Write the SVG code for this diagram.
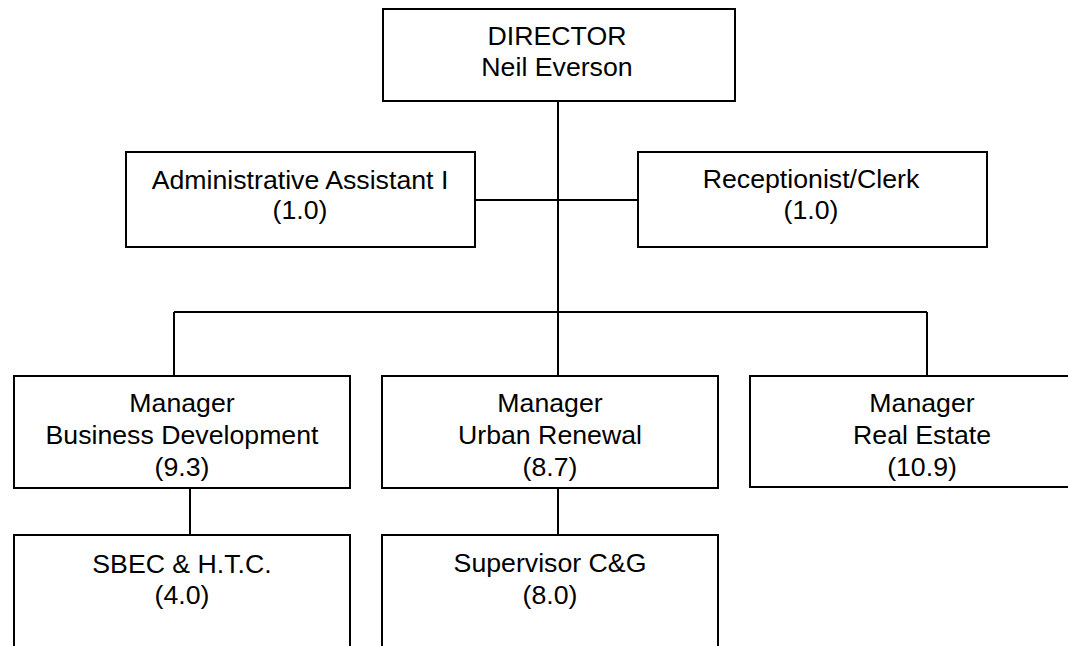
<svg xmlns="http://www.w3.org/2000/svg" width="1068" height="646" viewBox="0 0 1068 646">
<style>
.box{fill:#fff;stroke:#000;stroke-width:2}
.ln{fill:none;stroke:#000;stroke-width:2}
text{font-family:"Liberation Sans",Arial,sans-serif;font-size:26.7px;fill:#000;text-anchor:middle}
</style>
<rect width="1068" height="646" fill="#fff"/>
<g id="connectors">
<line class="ln" x1="558" y1="101" x2="558" y2="376"/>
<line class="ln" x1="476" y1="200" x2="638" y2="200"/>
<line class="ln" x1="174" y1="312" x2="927" y2="312"/>
<line class="ln" x1="174" y1="312" x2="174" y2="376"/>
<line class="ln" x1="927" y1="312" x2="927" y2="376"/>
<line class="ln" x1="190" y1="488" x2="190" y2="535"/>
<line class="ln" x1="558" y1="488" x2="558" y2="535"/>
</g>
<g id="director">
<rect class="box" x="383" y="9" width="352" height="92"/>
<text x="557" y="45">DIRECTOR</text>
<text x="557" y="76">Neil Everson</text>
</g>
<g id="admin">
<rect class="box" x="126" y="152" width="349" height="95"/>
<text x="300" y="189">Administrative Assistant I</text>
<text x="300" y="219">(1.0)</text>
</g>
<g id="receptionist">
<rect class="box" x="638" y="152" width="349" height="95"/>
<text x="811" y="188">Receptionist/Clerk</text>
<text x="811" y="219">(1.0)</text>
</g>
<g id="mgr-bd">
<rect class="box" x="14" y="376" width="336" height="112"/>
<text x="182" y="412">Manager</text>
<text x="182" y="444">Business Development</text>
<text x="182" y="476">(9.3)</text>
</g>
<g id="mgr-ur">
<rect class="box" x="382" y="376" width="336" height="112"/>
<text x="550" y="412">Manager</text>
<text x="550" y="444">Urban Renewal</text>
<text x="550" y="476">(8.7)</text>
</g>
<g id="mgr-re">
<rect class="box" x="750" y="376" width="344" height="111"/>
<text x="922" y="412">Manager</text>
<text x="922" y="444">Real Estate</text>
<text x="922" y="476">(10.9)</text>
</g>
<g id="sbec">
<rect class="box" x="14" y="535" width="336" height="130"/>
<text x="182" y="573">SBEC &amp; H.T.C.</text>
<text x="182" y="604">(4.0)</text>
</g>
<g id="supervisor">
<rect class="box" x="382" y="535" width="336" height="130"/>
<text x="550" y="572">Supervisor C&amp;G</text>
<text x="550" y="604">(8.0)</text>
</g>
</svg>
